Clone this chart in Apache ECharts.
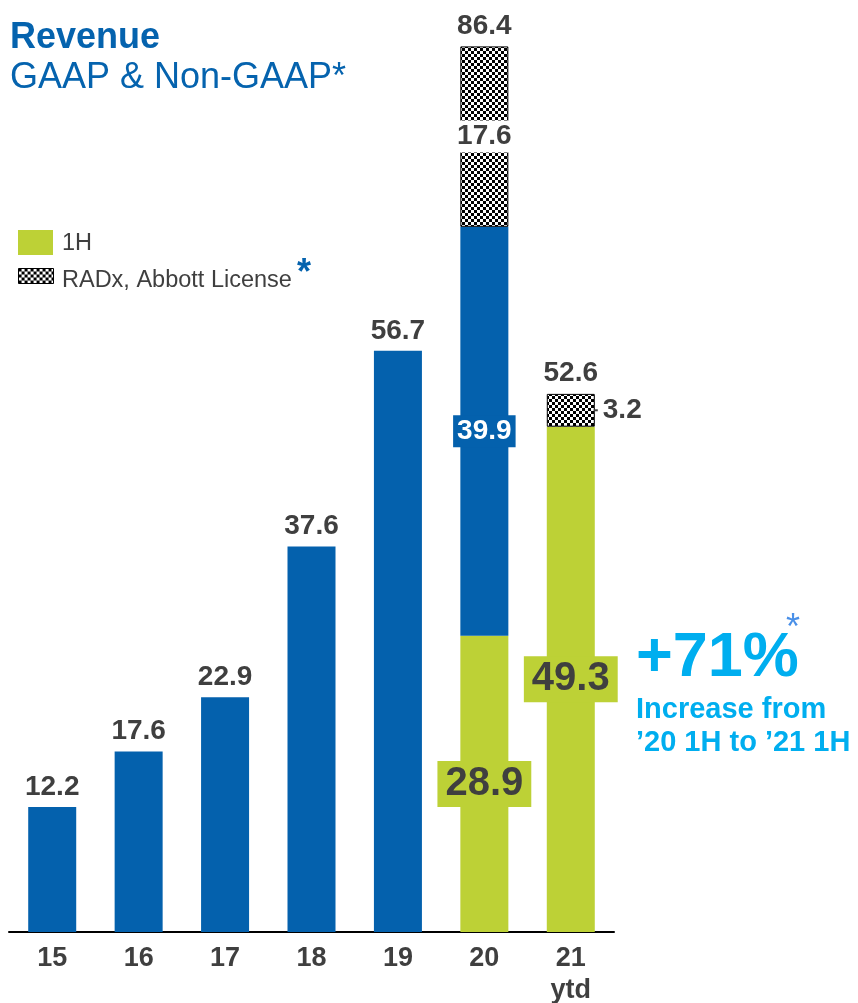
<!DOCTYPE html>
<html>
<head>
<meta charset="utf-8">
<style>
  html, body { margin: 0; padding: 0; background: #fff; }
  #chart { width: 858px; height: 1003px; }
</style>
<script src="https://cdn.jsdelivr.net/npm/echarts@6/dist/echarts.min.js"></script>
</head>
<body>
<div id="chart"></div>
<script>
// Fiscal years on the category axis
const years = ['15', '16', '17', '18', '19', '20', '21\nytd'];
// Full-year revenue (15-19) and second-half revenue for 2020
const fullYear = [12.2, 17.6, 22.9, 37.6, 56.7, 39.9, null];
// First-half revenue
const firstHalf = [null, null, null, null, null, 28.9, 49.3];
// RADx and Abbott license revenue
const radx = [null, null, null, null, null, 17.6, 3.2];
// Stated totals above the stacked bars
const totals = [null, null, null, null, null, 86.4, 52.6];

const BLUE = '#0461AD';
const GREEN = '#BDD136';
const TEXT = '#3f3f3f';
const TITLE_BLUE = '#0563AE';
const CYAN = '#00AEEF';
const FONT = 'Arial, "Liberation Sans", sans-serif';

// Checkerboard fill for the license segments
function checker() {
  const s = 3;
  const c = document.createElement('canvas');
  c.width = 2 * s; c.height = 2 * s;
  const g = c.getContext('2d');
  g.fillStyle = '#fff'; g.fillRect(0, 0, 2 * s, 2 * s);
  g.fillStyle = '#000'; g.fillRect(0, 0, s, s); g.fillRect(s, s, s, s);
  return c;
}
const hatch = { image: checker(), repeat: 'repeat' };

const valueLabel = { fontFamily: FONT, fontWeight: 'bold', fontSize: 28, color: TEXT };

const fullData = fullYear.map((v, i) => {
  if (v == null) return '-';
  if (i === 5) {
    return {
      value: v,
      label: { show: true, position: 'inside', ...valueLabel, color: '#fff', backgroundColor: BLUE, padding: [2, 4, 2, 4] }
    };
  }
  return { value: v, label: { show: true, position: 'top', distance: 6, ...valueLabel } };
});

const halfData = firstHalf.map(v => v == null ? '-' : {
  value: v,
  label: { show: true, position: 'inside', ...valueLabel, fontSize: 40, backgroundColor: GREEN, padding: [3, 8, 3, 8] }
});

const radxData = radx.map((v, i) => {
  if (v == null) return '-';
  if (i === 5) {
    return { value: v, label: { show: true, position: 'inside', ...valueLabel, backgroundColor: '#fff', padding: [2, 2, 2, 2] } };
  }
  return {
    value: v,
    label: {
      show: true, position: 'right', distance: -1,
      formatter: '{ln|}{v|{c}}',
      rich: {
        ln: { width: 4, height: 2, backgroundColor: TEXT },
        v: { ...valueLabel, padding: [0, 0, 0, 5] }
      }
    }
  };
});

const chart = echarts.init(document.getElementById('chart'), null, { renderer: 'canvas' });
chart.setOption({
  animation: false,
  backgroundColor: '#fff',
  title: {
    text: 'Revenue',
    subtext: 'GAAP & Non-GAAP*',
    left: 10, top: 20, itemGap: 4,
    textStyle: { fontFamily: FONT, fontSize: 36, fontWeight: 'bold', color: TITLE_BLUE, lineHeight: 36 },
    subtextStyle: { fontFamily: FONT, fontSize: 36, fontWeight: 'normal', color: TITLE_BLUE, lineHeight: 36 },
    padding: 0
  },
  grid: { left: 9, right: 244, top: 9.5, bottom: 71, containLabel: false, outerBoundsMode: 'none' },
  xAxis: {
    type: 'category',
    data: years,
    axisLine: { show: true, lineStyle: { color: '#000', width: 2 } },
    axisTick: { show: false },
    axisLabel: { margin: 11, fontFamily: FONT, fontSize: 27, fontWeight: 'bold', color: TEXT, lineHeight: 32 }
  },
  yAxis: { type: 'value', min: 0, max: 90, show: false, splitLine: { show: false } },
  series: [
    { name: '1H', type: 'bar', stack: 'rev', barWidth: 48, itemStyle: { color: GREEN }, data: halfData, z: 2 },
    { name: 'Revenue', type: 'bar', stack: 'rev', barWidth: 48, itemStyle: { color: BLUE }, data: fullData, z: 2 },
    { name: 'RADx, Abbott License', type: 'bar', stack: 'rev', barWidth: 48,
      itemStyle: { color: hatch, borderColor: '#000', borderWidth: 1 }, data: radxData, z: 2 },
    { name: 'Total', type: 'scatter', symbolSize: 0, itemStyle: { opacity: 1 },
      data: totals.map(v => v == null ? '-' : v),
      label: { show: true, position: 'top', distance: 6, ...valueLabel }, z: 3 }
  ],
  graphic: [
    // legend
    { type: 'rect', left: 18, top: 230, shape: { width: 35, height: 25 }, style: { fill: GREEN } },
    { type: 'text', x: 62, y: 244, style: { text: '1H', fontFamily: FONT, fontSize: 23.5, fill: TEXT, verticalAlign: 'middle' } },
    { type: 'rect', left: 18, top: 268, shape: { width: 35, height: 15 }, style: { fill: hatch, stroke: '#000', lineWidth: 1 } },
    { type: 'text', x: 62, y: 281, style: { text: 'RADx, Abbott License', fontFamily: FONT, fontSize: 23.5, fill: TEXT, verticalAlign: 'middle' } },
    { type: 'text', x: 304, y: 274, style: { text: '*', fontFamily: FONT, fontSize: 36, fontWeight: 'bold', fill: TITLE_BLUE, align: 'center', verticalAlign: 'middle' } },
    // growth callout
    { type: 'text', x: 636, y: 659, style: { text: '+71%', fontFamily: FONT, fontSize: 63, fontWeight: 'bold', fill: CYAN, verticalAlign: 'middle' } },
    { type: 'text', x: 793, y: 629, style: { text: '*', fontFamily: FONT, fontSize: 36, fill: '#4A90E8', align: 'center', verticalAlign: 'middle' } },
    { type: 'text', x: 636, y: 710, style: { text: 'Increase from', fontFamily: FONT, fontSize: 29, fontWeight: 'bold', fill: CYAN, verticalAlign: 'middle' } },
    { type: 'text', x: 636, y: 743, style: { text: '\u201920 1H to \u201921 1H', fontFamily: FONT, fontSize: 29, fontWeight: 'bold', fill: CYAN, verticalAlign: 'middle' } }
  ]
});
</script>
</body>
</html>
